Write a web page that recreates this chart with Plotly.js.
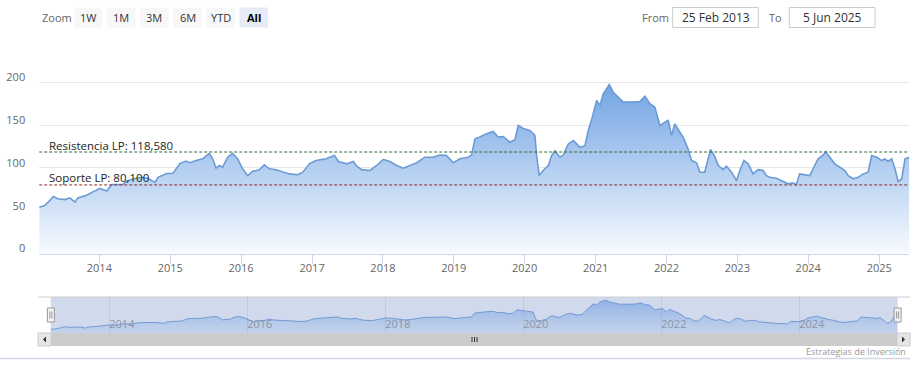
<!DOCTYPE html>
<html>
<head>
<meta charset="utf-8">
<script src="https://cdn.plot.ly/plotly-3.0.1.min.js"></script>
<style>html,body{margin:0;padding:0;background:#fff;}#chart{width:919px;height:370px;}</style>
</head>
<body>
<div id="chart"></div>
<script>
// ---- data ----
const dates = [
'2013-02-25','2013-03-26','2013-04-21','2013-05-08','2013-06-01','2013-07-07','2013-08-02','2013-08-28','2013-09-12','2013-10-27','2013-11-29',
'2014-01-04','2014-02-08','2014-03-05','2014-05-02','2014-05-21','2014-06-23','2014-08-07','2014-09-09','2014-10-15','2014-10-30','2014-12-14',
'2015-01-15','2015-02-20','2015-03-23','2015-04-13','2015-05-14','2015-06-17','2015-07-21','2015-08-08','2015-08-25','2015-09-11','2015-09-28','2015-10-24','2015-11-18','2015-12-14',
'2016-01-09','2016-02-04','2016-03-01','2016-04-04','2016-04-30','2016-05-26','2016-06-29','2016-08-03','2016-09-06','2016-10-19','2016-11-14','2016-12-18',
'2017-01-21','2017-03-14','2017-04-26','2017-05-17','2017-06-29','2017-08-01','2017-08-19','2017-09-14','2017-10-26','2017-11-30',
'2018-01-03','2018-02-06','2018-03-13','2018-04-16','2018-05-20','2018-06-24','2018-08-05','2018-09-17','2018-10-22','2018-11-25','2018-12-29',
'2019-02-02','2019-03-16','2019-04-03','2019-04-20','2019-05-15','2019-06-19','2019-07-23','2019-08-18','2019-09-13','2019-10-17','2019-11-12','2019-11-29','2019-12-25',
'2020-01-28','2020-02-23','2020-03-03','2020-03-16','2020-04-06','2020-05-02','2020-05-19','2020-06-05','2020-07-01','2020-07-18','2020-08-13','2020-09-08','2020-09-25','2020-10-12','2020-11-07','2020-11-24','2020-12-12',
'2021-01-06','2021-01-23','2021-02-09','2021-03-12','2021-04-02','2021-04-19','2021-05-23','2021-07-14','2021-08-17','2021-09-12','2021-10-08','2021-11-02','2021-11-28','2021-12-24',
'2022-01-10','2022-01-27','2022-02-13','2022-03-11','2022-03-28','2022-04-22','2022-05-10','2022-06-05','2022-06-22','2022-07-17','2022-08-04','2022-08-16','2022-09-08','2022-09-25','2022-10-20','2022-11-06','2022-12-02','2022-12-28',
'2023-01-14','2023-02-04','2023-02-26','2023-03-23','2023-04-18','2023-05-14','2023-05-31','2023-06-17','2023-07-21','2023-08-24','2023-09-19','2023-10-15','2023-11-01','2023-11-18','2023-12-14',
'2024-01-09','2024-02-04','2024-02-21','2024-03-17','2024-03-31','2024-04-21','2024-05-17','2024-06-12','2024-07-08','2024-07-25','2024-08-20','2024-09-15','2024-10-11','2024-11-05','2024-11-23','2024-12-19',
'2025-01-13','2025-01-30','2025-02-16','2025-03-06','2025-03-23','2025-04-09','2025-04-27','2025-05-14','2025-06-05'
];
const prices = [
54,56,62,66.6,64,63,65,60,65,68,72,
76,73,80.6,80.6,84.5,87,89,87.6,83,89,93.4,
93.8,105,108,106,108.6,110.6,117,110.6,99.7,102.8,100.8,112.5,117,110.6,
99,91,96,97.8,103.6,99,97.8,95,93,92,95,104.8,
108.6,110.6,114.5,107.5,104.8,107.5,102,98,97,102.8,
109.8,107.5,102.8,99.7,102.8,106,112.5,112.5,115,114.5,106,
110.6,112.5,115,134,136,140,142.5,136,136.7,130,133,149.5,146,
143.7,138,114.5,91,97,102.8,114.5,120,112.5,115,128,132,128,124,126,143.7,157,
178.7,173,186.6,197.4,188.4,184.6,176.8,176.8,177.6,183.8,175,171,149.5,153.4,
155.4,138,151.5,141.7,136,122,108.6,106,95,95,110.6,121.5,112.5,102.8,98,102,95,85,
97,108.6,104.8,93,98,97,91,89,88,84,81.4,82.6,80.3,93,92,
91,102.8,110.6,114.5,119,112.5,104.8,100.8,97,91,87.3,89,93,95,114.5,112.5,
108.6,110.6,107.5,110.6,99,84,87.3,110.6,112.5
];
const levelNames = ['Resistencia LP: 118,580', 'Soporte LP: 80,100'];
const levelValues = [118.58, 80.1];
const levelColors = ['#2f6b2f', '#8b2a2a'];
const yTickVals = [0, 50, 100, 150, 200, 250];
const yTickText = ['0', '50', '100', '150', '200', ''];
const xTickVals = ['2014-01-01','2015-01-01','2016-01-01','2017-01-01','2018-01-01','2019-01-01','2020-01-01','2021-01-01','2022-01-01','2023-01-01','2024-01-01','2025-01-01'];
const xTickText = ['2014','2015','2016','2017','2018','2019','2020','2021','2022','2023','2024','2025'];
const navTickVals = ['2014-01-01','2016-01-01','2018-01-01','2020-01-01','2022-01-01','2024-01-01'];
const navTickText = ['2014','2016','2018','2020','2022','2024'];
const zoomButtons = ['1W','1M','3M','6M','YTD','All'];
const fromDate = '25 Feb 2013', toDate = '5 Jun 2025';
const xRange = ['2013-02-25', '2025-06-05'];

// ---- layout helpers (pixel -> paper) ----
const W = 919, H = 370;
const px = x => x / W;
const py = y => 1 - y / H;
const FONT = 'Open Sans, Noto Sans, sans-serif';

const mainX = [px(39.2), px(909.3)];
const mainY = [py(253.5), py(39.5)];
const navX = [px(50.7), px(897.6)];
const navY = [py(333), py(297)];

const shapes = [];
const annotations = [];

// level lines
levelValues.forEach((v, i) => {
  shapes.push({type:'line', xref:'x domain', yref:'y', x0:0, x1:1, y0:v, y1:v,
    line:{color:levelColors[i], width:1, dash:'3px,2px'}, layer:'above'});
  annotations.push({xref:'x domain', yref:'y', x:0.0095, y:v, xanchor:'left', yanchor:'middle', yshift:7,
    text:levelNames[i], showarrow:false, font:{family:FONT, size:11.5, color:'#222'}});
});

// range selector
annotations.push({xref:'paper', yref:'paper', x:px(40), y:py(17.5), xanchor:'left', yanchor:'middle',
  text:'Zoom', showarrow:false, font:{family:FONT, size:11, color:'#666'}});
zoomButtons.forEach((b, i) => {
  const x0 = 74 + i * 33.1, x1 = x0 + 28.5;
  const sel = b === 'All';
  shapes.push({type:'rect', xref:'paper', yref:'paper', x0:px(x0), x1:px(x1), y0:py(27.5), y1:py(7.5),
    fillcolor: sel ? '#e6ebf5' : '#f7f7f7', line:{width:0}});
  annotations.push({xref:'paper', yref:'paper', x:px((x0 + x1) / 2), y:py(17.5), xanchor:'center', yanchor:'middle',
    text: sel ? '<b>' + b + '</b>' : b, showarrow:false, font:{family:FONT, size:11, color: sel ? '#000' : '#333'}});
});
// date inputs
annotations.push({xref:'paper', yref:'paper', x:px(640), y:py(17.5), xanchor:'left', yanchor:'middle',
  text:'From', showarrow:false, font:{family:FONT, size:11, color:'#666'}});
annotations.push({xref:'paper', yref:'paper', x:px(767), y:py(17.5), xanchor:'left', yanchor:'middle',
  text:'To', showarrow:false, font:{family:FONT, size:11, color:'#666'}});
[[672.7, 758.3, fromDate], [789.3, 875, toDate]].forEach(([a, b, t]) => {
  shapes.push({type:'rect', xref:'paper', yref:'paper', x0:px(a), x1:px(b), y0:py(27.5), y1:py(7.5),
    fillcolor:'#fff', line:{color:'#cccccc', width:1}});
  annotations.push({xref:'paper', yref:'paper', x:px((a + b) / 2), y:py(17.5), xanchor:'center', yanchor:'middle',
    text:t, showarrow:false, font:{family:FONT, size:12, color:'#333'}});
});

// navigator mask + outline
shapes.push({type:'rect', xref:'paper', yref:'paper', x0:navX[0], x1:navX[1], y0:navY[0], y1:navY[1],
  fillcolor:'rgba(102,133,194,0.3)', line:{width:0}, layer:'below'});
shapes.push({type:'line', xref:'paper', yref:'paper', x0:px(38), x1:px(910), y0:py(297), y1:py(297),
  line:{color:'#cccccc', width:1}});
// handles
[50.9, 897.6].forEach(cx => {
  shapes.push({type:'rect', xref:'paper', yref:'paper', x0:px(cx - 3.5), x1:px(cx + 3.5), y0:py(322), y1:py(308),
    fillcolor:'#f2f2f2', line:{color:'#999999', width:1}});
  shapes.push({type:'line', xref:'paper', yref:'paper', x0:px(cx - 1), x1:px(cx - 1), y0:py(318.5), y1:py(311.5),
    line:{color:'#999999', width:1}});
  shapes.push({type:'line', xref:'paper', yref:'paper', x0:px(cx + 1), x1:px(cx + 1), y0:py(318.5), y1:py(311.5),
    line:{color:'#999999', width:1}});
});
// scrollbar
shapes.push({type:'rect', xref:'paper', yref:'paper', x0:px(38), x1:px(910), y0:py(346), y1:py(333),
  fillcolor:'#cccccc', line:{width:0}});
[[38, 51, 1], [897, 910, -1]].forEach(([a, b, d]) => {
  shapes.push({type:'rect', xref:'paper', yref:'paper', x0:px(a), x1:px(b), y0:py(346), y1:py(333),
    fillcolor:'#e6e6e6', line:{color:'#cccccc', width:1}});
  const c = (a + b) / 2;
  const tip = d > 0 ? c - 1.5 : c + 1.5, base = d > 0 ? c + 1.5 : c - 1.5;
  shapes.push({type:'path', xref:'paper', yref:'paper',
    path:`M ${px(base)} ${py(336.5)} L ${px(tip)} ${py(339.5)} L ${px(base)} ${py(342.5)} Z`,
    fillcolor:'#333333', line:{width:0}});
});
[472, 474.5, 477].forEach(gx => {
  shapes.push({type:'line', xref:'paper', yref:'paper', x0:px(gx), x1:px(gx), y0:py(342), y1:py(337),
    line:{color:'#333333', width:1}});
});
// bottom separator line
shapes.push({type:'line', xref:'paper', yref:'paper', x0:0, x1:px(910), y0:py(358.5), y1:py(358.5),
  line:{color:'#d3d7e2', width:1.5}});
// credits
annotations.push({xref:'paper', yref:'paper', x:px(908), y:py(351), xanchor:'right', yanchor:'middle',
  text:'Estrategias de Inversión', showarrow:false, font:{family:FONT, size:9, color:'#999'}});

const traces = [
  {x:dates, y:prices, type:'scatter', mode:'lines', xaxis:'x', yaxis:'y', fill:'tozeroy',
   line:{color:'#6b9bd6', width:1.6},
   fillgradient:{type:'vertical', start:0, stop:200,
     colorscale:[[0,'rgb(247,250,254)'],[1,'rgb(112,163,227)']]},
   hoverinfo:'skip'},
  {x:dates, y:prices, type:'scatter', mode:'lines', xaxis:'x2', yaxis:'y2', fill:'tozeroy',
   line:{color:'#7299d4', width:1},
   fillgradient:{type:'vertical', start:36, stop:200,
     colorscale:[[0,'rgba(110,160,225,0.12)'],[1,'rgba(100,150,222,0.6)']]},
   hoverinfo:'skip'}
];

const layout = {
  width:W, height:H, autosize:false,
  margin:{l:0, r:0, t:0, b:0, pad:0},
  paper_bgcolor:'#ffffff', plot_bgcolor:'rgba(0,0,0,0)',
  showlegend:false,
  font:{family:FONT},
  xaxis:{domain:mainX, anchor:'y', type:'date', range:xRange, tickvals:xTickVals, ticktext:xTickText,
    showgrid:false, zeroline:false, showline:true, linecolor:'#ccd6eb', linewidth:1,
    ticks:'outside', ticklen:9, tickcolor:'#ccd6eb', tickwidth:1, ticklabelstandoff:-5,
    tickfont:{family:FONT, size:11, color:'#666'}, fixedrange:true},
  yaxis:{domain:mainY, anchor:'x', range:[0, 250], tickvals:yTickVals, ticktext:yTickText,
    showgrid:true, gridcolor:'#e6e6e6', gridwidth:1, zeroline:false, showline:false, ticks:'',
    ticklabelstandoff:13, ticklabelshift:-5,
    tickfont:{family:FONT, size:11, color:'#666'}, fixedrange:true},
  xaxis2:{domain:navX, anchor:'y2', type:'date', range:xRange, tickvals:navTickVals, ticktext:navTickText,
    showgrid:true, gridcolor:'#c3cbdb', gridwidth:1, zeroline:false, showline:false, ticks:'',
    ticklabelposition:'inside right', ticklabelstandoff:-3,
    tickfont:{family:FONT, size:11, color:'#8c95a8'}, fixedrange:true},
  yaxis2:{domain:navY, anchor:'x2', range:[36, 212], showgrid:false, zeroline:false, showline:false,
    showticklabels:false, ticks:'', fixedrange:true},
  shapes:shapes,
  annotations:annotations
};

Plotly.newPlot('chart', traces, layout, {displayModeBar:false, staticPlot:true});
</script>
</body>
</html>
